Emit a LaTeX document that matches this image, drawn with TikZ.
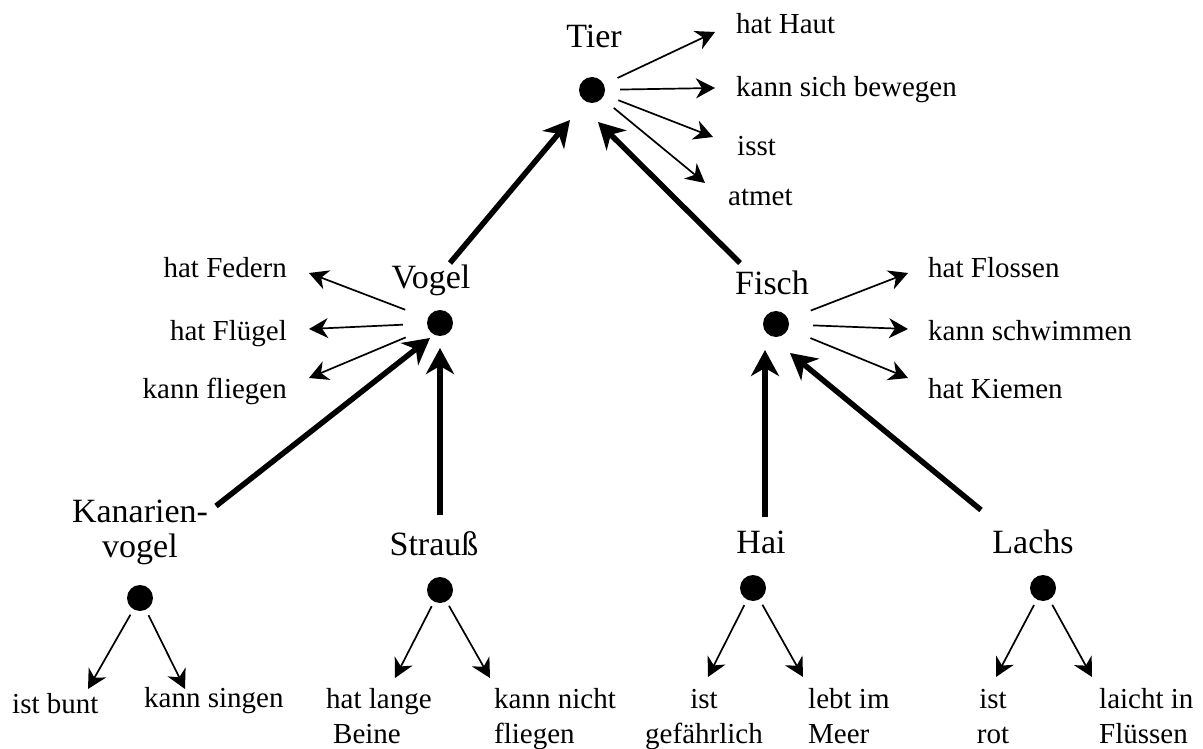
\documentclass[tikz,border=0pt]{standalone}
\usepackage{fontspec}
\setmainfont{Liberation Serif}
\usetikzlibrary{arrows.meta}
\begin{document}
\begin{tikzpicture}[x=1pt,y=-1pt,
  dot/.style={circle,fill=black,minimum size=26pt,inner sep=0pt},
  big/.style={inner sep=0pt,font=\fontsize{34}{35}\selectfont},
  small/.style={inner sep=0pt,font=\fontsize{29}{35}\selectfont},
  prop/.style={line width=1.7pt,-{Stealth[length=19pt,width=20pt,inset=6pt]}},
  isa/.style={line width=5.5pt,-{Stealth[length=26pt,width=28pt,inset=8pt]}}]
\useasboundingbox (0,0) rectangle (1203,749);

% --- dots
\node[dot] (tier) at (592,90) {};
\node[dot] (vogel) at (440,323) {};
\node[dot] (fisch) at (776,324) {};
\node[dot] (kanarien) at (140,598) {};
\node[dot] (strauss) at (440,590) {};
\node[dot] (hai) at (753,588) {};
\node[dot] (lachs) at (1043,588) {};

% --- concept labels
\node[big,anchor=base] (ltier) at (594,48) {Tier};
\node[big,anchor=base] (lvogel) at (431,288) {Vogel};
\node[big,anchor=base] (lfisch) at (772,294) {Fisch};
\node[big,anchor=base] (lkanarien) at (140,522) {\begin{tabular}[t]{@{}c@{}}Kanarien-\\vogel\end{tabular}};
\node[big,anchor=base] (lstrauss) at (434,555) {Strauß};
\node[big,anchor=base] (lhai) at (761,553) {Hai};
\node[big,anchor=base] (llachs) at (1033,553) {Lachs};

% --- property texts
\node[small,anchor=base west] (p1) at (736,34) {hat Haut};
\node[small,anchor=base west] (p2) at (736,97) {kann sich bewegen};
\node[small,anchor=base west] (p3) at (737,156) {isst};
\node[small,anchor=base west] (p4) at (728,206) {atmet};

\node[small,anchor=base east] (v1) at (287,277) {hat Federn};
\node[small,anchor=base east] (v2) at (287,340) {hat Flügel};
\node[small,anchor=base east] (v3) at (287,398) {kann fliegen};

\node[small,anchor=base west] (f1) at (928,277) {hat Flossen};
\node[small,anchor=base west] (f2) at (928,340) {kann schwimmen};
\node[small,anchor=base west] (f3) at (928,398) {hat Kiemen};

\node[small,anchor=base west] (k1) at (12,713) {ist bunt};
\node[small,anchor=base west] (k2) at (144,707) {kann singen};
\node[small,anchor=base west] (s1) at (326,708) {\begin{tabular}[t]{@{}l@{}}hat lange\\\hspace*{7pt}Beine\end{tabular}};
\node[small,anchor=base west] (s2) at (494,708) {\begin{tabular}[t]{@{}l@{}}kann nicht\\fliegen\end{tabular}};
\node[small,anchor=base] (h1) at (704,708) {\begin{tabular}[t]{@{}c@{}}ist\\gefährlich\end{tabular}};
\node[small,anchor=base west] (h2) at (808,708) {\begin{tabular}[t]{@{}l@{}}lebt im\\Meer\end{tabular}};
\node[small,anchor=base] (l1) at (993,708) {\begin{tabular}[t]{@{}c@{}}ist\\rot\end{tabular}};
\node[small,anchor=base west] (l2) at (1099,708) {\begin{tabular}[t]{@{}l@{}}laicht in\\Flüssen\end{tabular}};

% --- arrow tips of property arrows
\coordinate (tp1) at (715,32);
\coordinate (tp2) at (715,88);
\coordinate (tp3) at (713,137);
\coordinate (tp4) at (705,183);
\coordinate (tv1) at (309,273);
\coordinate (tv2) at (309,329);
\coordinate (tv3) at (309,378);
\coordinate (tf1) at (908,273);
\coordinate (tf2) at (908,329);
\coordinate (tf3) at (908,378);
\coordinate (tk1) at (88,689);
\coordinate (tk2) at (185,689);
\coordinate (ts1) at (395,678);
\coordinate (ts2) at (490,678);
\coordinate (th1) at (708,677);
\coordinate (th2) at (803,677);
\coordinate (tl1) at (996,677);
\coordinate (tl2) at (1092,677);

\foreach \t in {tp1,tp2,tp3,tp4} \draw[prop,shorten <=15pt] (tier) -- (\t);
\foreach \t in {tv1,tv2,tv3} \draw[prop,shorten <=24pt] (vogel) -- (\t);
\foreach \t in {tf1,tf2,tf3} \draw[prop,shorten <=24pt] (fisch) -- (\t);
\foreach \t in {tk1,tk2} \draw[prop,shorten <=6pt] (kanarien) -- (\t);
\foreach \t in {ts1,ts2} \draw[prop,shorten <=5pt] (strauss) -- (\t);
\foreach \t in {th1,th2} \draw[prop,shorten <=6pt] (hai) -- (\t);
\foreach \t in {tl1,tl2} \draw[prop,shorten <=6pt] (lachs) -- (\t);

% --- is-a arrows (thick)
\coordinate (svogel) at (450,263);
\coordinate (sfisch) at (740,263);
\coordinate (skanarien) at (216,506);
\coordinate (sstrauss) at (440,515);
\coordinate (shai) at (765,517);
\coordinate (slachs) at (981,510);

\draw[isa] (svogel) -- ([xshift=-22pt,yshift=-30pt]tier.center);
\draw[isa] (sfisch) -- ([xshift=6pt,yshift=-32pt]tier.center);
\draw[isa] (skanarien) -- ([xshift=-10pt,yshift=-15pt]vogel.center);
\draw[isa] (sstrauss) -- ([xshift=0pt,yshift=-25pt]vogel.center);
\draw[isa] (shai) -- ([xshift=-11pt,yshift=-26pt]fisch.center);
\draw[isa] (slachs) -- ([xshift=14pt,yshift=-29pt]fisch.center);
\end{tikzpicture}
\end{document}
